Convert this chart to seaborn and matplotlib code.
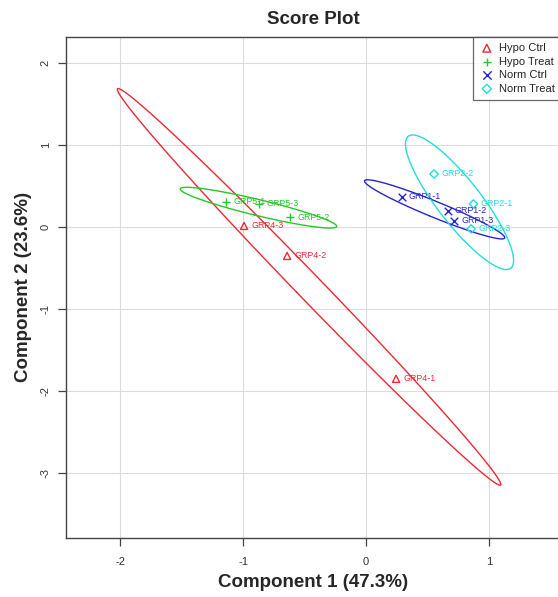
import numpy as np
import pandas as pd
import matplotlib
matplotlib.use("Agg")
import matplotlib.pyplot as plt
import seaborn as sns

# Scores (component 1, component 2)
hypo_ctrl_names = ["GRP4-1", "GRP4-2", "GRP4-3"]
hypo_ctrl_pc1 = [0.244, -0.642, -0.992]
hypo_ctrl_pc2 = [-1.854, -0.354, 0.012]

hypo_treat_names = ["GRP5-1", "GRP5-3", "GRP5-2"]
hypo_treat_pc1 = [-1.138, -0.870, -0.618]
hypo_treat_pc2 = [0.305, 0.280, 0.118]

norm_ctrl_names = ["GRP1-1", "GRP1-2", "GRP1-3"]
norm_ctrl_pc1 = [0.290, 0.664, 0.718]
norm_ctrl_pc2 = [0.370, 0.195, 0.077]

norm_treat_names = ["GRP2-2", "GRP2-1", "GRP2-3"]
norm_treat_pc1 = [0.553, 0.873, 0.854]
norm_treat_pc2 = [0.646, 0.280, -0.024]

groups = ["Hypo Ctrl", "Hypo Treat", "Norm Ctrl", "Norm Treat"]
colors = ["#EE2836", "#26C826", "#2626CC", "#22DEDE"]
markers = ["^", "+", "x", "D"]

df = pd.concat([
    pd.DataFrame({"name": hypo_ctrl_names, "pc1": hypo_ctrl_pc1, "pc2": hypo_ctrl_pc2, "group": "Hypo Ctrl"}),
    pd.DataFrame({"name": hypo_treat_names, "pc1": hypo_treat_pc1, "pc2": hypo_treat_pc2, "group": "Hypo Treat"}),
    pd.DataFrame({"name": norm_ctrl_names, "pc1": norm_ctrl_pc1, "pc2": norm_ctrl_pc2, "group": "Norm Ctrl"}),
    pd.DataFrame({"name": norm_treat_names, "pc1": norm_treat_pc1, "pc2": norm_treat_pc2, "group": "Norm Treat"}),
], ignore_index=True)


def conf_ellipse(x, y, level=0.95, n=200):
    """95% ellipse from the sample covariance, like R's ellipse()"""
    cov = np.cov(x, y)
    t = np.sqrt(-2 * np.log(1 - level))  # sqrt(qchisq(level, 2))
    vals, vecs = np.linalg.eigh(cov)
    a = np.linspace(0, 2 * np.pi, n)
    circ = np.vstack([np.cos(a), np.sin(a)])
    pts = vecs @ (np.sqrt(vals)[:, None] * circ) * t
    return pts[0] + np.mean(x), pts[1] + np.mean(y)


sns.set_style("white")
plt.rcParams["font.family"] = ["Liberation Sans", "DejaVu Sans"]
plt.rcParams["axes.unicode_minus"] = False

fig = plt.figure(figsize=(5.58, 5.97), dpi=100)
ax = fig.add_axes([66 / 558, 59.5 / 597, 495 / 558, 500.5 / 597])

for grp, col, mk in zip(groups, colors, markers):
    sub = df[df["group"] == grp]
    ex, ey = conf_ellipse(sub["pc1"].values, sub["pc2"].values)
    ax.plot(ex, ey, color=col, lw=1.0, zorder=2)
    if mk in ("^", "D"):
        sns.scatterplot(data=sub, x="pc1", y="pc2", marker=mk, s=26 if mk == "^" else 18,
                        facecolor="none", edgecolor=col, linewidth=1.0, ax=ax,
                        label=grp, zorder=3)
    else:
        sns.scatterplot(data=sub, x="pc1", y="pc2", marker=mk, s=30, color=col,
                        linewidth=1.0, ax=ax, label=grp, zorder=3)
    for _, r in sub.iterrows():
        ax.annotate(r["name"], (r["pc1"], r["pc2"]), xytext=(5, 0),
                    textcoords="offset points", va="center", ha="left",
                    fontsize=6.4, color=col, zorder=4)

ax.set_xlim(-2.44, 1.585)
ax.set_ylim(-3.79, 2.317)
ax.set_xticks([-2, -1, 0, 1])
ax.set_yticks([-3, -2, -1, 0, 1, 2])
ax.grid(True, color="#dcdcdc", lw=0.8)
ax.set_axisbelow(True)
for sp in ax.spines.values():
    sp.set_color("#444444")
    sp.set_linewidth(1.0)
ax.tick_params(axis="both", direction="out", length=6, width=0.9, color="#444444",
               labelsize=8, labelcolor="#333333", bottom=True, left=True)
ax.tick_params(axis="x", pad=8)
ax.tick_params(axis="y", pad=5)
for lab in ax.get_yticklabels():
    lab.set_rotation(90)
    lab.set_va("center")

ax.set_xlabel("Component 1 (47.3%)", fontsize=13.5, fontweight="bold", labelpad=5)
ax.set_ylabel("Component 2 (23.6%)", fontsize=13.5, fontweight="bold", labelpad=6)
ax.set_title("Score Plot", fontsize=13.5, fontweight="bold", pad=9)

leg = ax.legend(loc="upper right", fontsize=8, frameon=True, fancybox=False,
                borderaxespad=0, handletextpad=0.4, labelspacing=0.32,
                handlelength=1.4, borderpad=0.55, markerscale=1.1)
leg.get_frame().set_edgecolor("#444444")
leg.get_frame().set_linewidth(0.9)

fig.savefig("out.png", dpi=100)
